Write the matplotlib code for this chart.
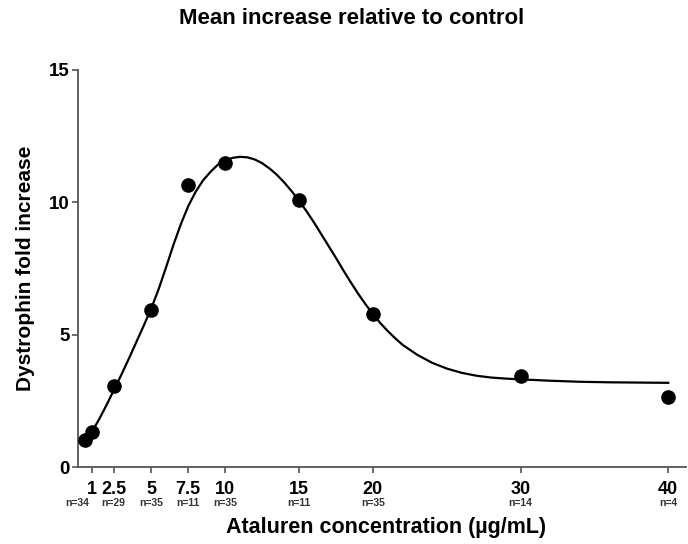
import matplotlib
matplotlib.use("Agg")
import matplotlib.pyplot as plt
import matplotlib.transforms as mtransforms

plt.rcParams['font.family'] = ['Liberation Sans', 'DejaVu Sans']

# Measured points
conc = [0.5, 1, 2.5, 5, 7.5, 10, 15, 20, 30, 40]
fold = [1.02, 1.32, 3.06, 5.92, 10.66, 11.47, 10.08, 5.77, 3.45, 2.63]

# Fitted curve
curve_x = [1, 1.5, 2, 2.5, 3, 3.5, 4, 4.5, 5, 5.5, 6, 6.5, 7, 7.5, 8, 8.5, 9, 9.5,
           10, 10.5, 11, 11.5, 12, 12.5, 13, 13.5, 14, 14.5, 15, 15.5, 16, 16.5, 17,
           17.5, 18, 18.5, 19, 19.5, 20, 20.5, 21, 21.5, 22, 23, 24, 25, 26, 27, 28,
           29, 30, 32, 34, 36, 38, 40]
curve_y = [1.35, 1.84, 2.38, 2.95, 3.52, 4.12, 4.74, 5.36, 6.0, 6.73, 7.55, 8.4, 9.18,
           9.86, 10.4, 10.83, 11.15, 11.42, 11.58, 11.68, 11.72, 11.7, 11.62, 11.48,
           11.28, 11.04, 10.75, 10.42, 10.06, 9.67, 9.25, 8.8, 8.35, 7.9, 7.43, 6.98,
           6.55, 6.15, 5.78, 5.44, 5.14, 4.87, 4.62, 4.24, 3.94, 3.72, 3.56, 3.45,
           3.38, 3.34, 3.31, 3.26, 3.22, 3.2, 3.19, 3.18]

xticks = [1, 2.5, 5, 7.5, 10, 15, 20, 30, 40]
xtick_labels = ["1", "2.5", "5", "7.5", "10", "15", "20", "30", "40"]
n_labels = ["n=34", "n=29", "n=35", "n=11", "n=35", "n=11", "n=35", "n=14", "n=4"]
yticks = [0, 5, 10, 15]

# horizontal nudges (pixels) for the crowded sample-size labels
n_shift_px = [-15, -1, 0, 0, 0, 0, 0, 0, 0]

fig = plt.figure(figsize=(6.88, 5.44), dpi=100)
ax = fig.add_axes([77.5/688, (544-467)/544, (686-77.5)/688, (467-70)/544])

ax.plot(curve_x, curve_y, color='black', lw=1.6, zorder=2, solid_joinstyle='round')
ax.plot(conc, fold, 'o', color='black', markersize=9.5, zorder=3)

ax.set_xlim(0, 41.2)
ax.set_ylim(0, 15)
for s in ['top', 'right']:
    ax.spines[s].set_visible(False)
for s in ['left', 'bottom']:
    ax.spines[s].set_color('#555555')
    ax.spines[s].set_linewidth(1.3)

ax.set_xticks(xticks)
ax.set_xticklabels(xtick_labels, fontsize=13, fontweight='bold')
ax.set_yticks(yticks)
ax.set_yticklabels([str(v) for v in yticks], fontsize=13.5, fontweight='bold')
ax.tick_params(axis='both', direction='out', length=4, width=1.2, color='#555555')
ax.tick_params(axis='x', pad=6)
ax.tick_params(axis='y', pad=1.5)

trans = mtransforms.blended_transform_factory(ax.transData, fig.transFigure)
for xv, nl, dx in zip(xticks, n_labels, n_shift_px):
    t = trans + mtransforms.ScaledTranslation(dx / 100.0, 0, fig.dpi_scale_trans)
    ax.text(xv, (544-503.5)/544, nl, transform=t, ha='center', va='center',
            fontsize=7.5, fontweight='bold', color='#333333')

fig.text(352/688, 1-18/544, "Mean increase relative to control", ha='center', va='center',
         fontsize=16, fontweight='bold')
fig.text(26/688, 1-268/544, "Dystrophin fold increase", ha='center', va='center',
         rotation=90, fontsize=15, fontweight='bold')
fig.text(386/688, 1-528/544, "Ataluren concentration (\u00b5g/mL)", ha='center', va='center',
         fontsize=15.5, fontweight='bold')

fig.savefig("out.png", dpi=100)
